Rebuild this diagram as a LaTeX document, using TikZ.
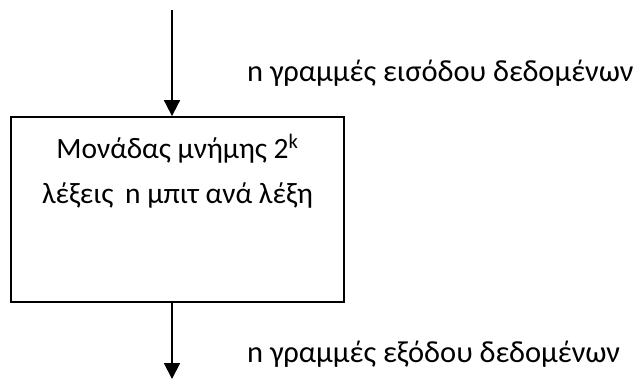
\documentclass[tikz,border=0pt]{standalone}
\usepackage{fontspec}
\setmainfont{Carlito}
\usetikzlibrary{arrows.meta}
\tikzset{
  flow/.style={line width=1.8pt, -{Triangle[width=16pt,length=16pt]}},
  membox/.style={draw, line width=1.8pt, minimum width=333pt, minimum height=185pt, inner sep=0pt},
  boxlbl/.style={font=\fontsize{29.5}{45}\selectfont, inner sep=0pt},
  lbl/.style={font=\fontsize{30.5}{45}\selectfont, inner sep=0pt},
}
\begin{document}
\begin{tikzpicture}[x=1pt,y=-1pt]
\useasboundingbox (0,0) rectangle (634,381);
\node[membox] (box) at (177.5,209.5) {};
\node[boxlbl, align=center, anchor=base] (boxtext) at (177.5,203) {Μονάδας μνήμης 2\textsuperscript{k}\\λέξεις\, n μπιτ ανά λέξη};
\coordinate (intop) at (172,10);
\coordinate (outend) at (172,379);
\draw[flow] (intop) -- (intop |- box.north);
\draw[flow] (outend |- box.south) -- (outend);
\node[lbl, anchor=base west] (inlbl) at (247,81) {n γραμμές εισόδου δεδομένων};
\node[lbl, anchor=base west] (outlbl) at (247,362) {n γραμμές εξόδου δεδομένων};
\end{tikzpicture}
\end{document}
